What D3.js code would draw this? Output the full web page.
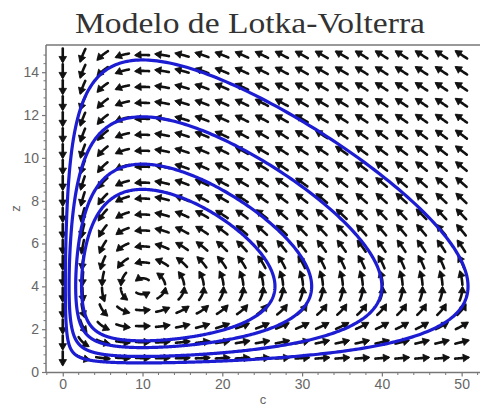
<!DOCTYPE html>
<html><head><meta charset="utf-8">
<script src="https://cdn.jsdelivr.net/npm/d3@7"></script>
<style>body{margin:0;background:#fff}</style>
</head><body><svg id="chart" width="480" height="409"></svg>
<script>
// ---- data ----
const titleText = "Modelo de Lotka-Volterra";
const xLabel = "c";
const yLabel = "z";
const xTicks = [0, 10, 20, 30, 40, 50];
const yTicks = [0, 2, 4, 6, 8, 10, 12, 14];
// model: c' = alpha*c - beta*c*z ; z' = -gamma*z + delta*c*z
const alpha = 1.0, beta = 0.25, gamma = 0.55, delta = 0.055;
// orbit starting points (read at z = 4, right-most point of each closed curve)
const orbitStartC = [50.8, 40.0, 31.2, 26.6];
const orbitStartZ = [4, 4, 4, 4];
// direction-field grid
const fieldC = [0, 2.5, 5, 7.5, 10, 12.5, 15, 17.5, 20, 22.5, 25, 27.5, 30, 32.5, 35, 37.5, 40, 42.5, 45, 47.5, 50];
const fieldZ = [0.65, 1.395, 2.14, 2.885, 3.63, 4.375, 5.12, 5.865, 6.61, 7.355, 8.1, 8.845, 9.59, 10.335, 11.08, 11.825, 12.57, 13.315, 14.06, 14.805];

// ---- layout ----
const W = 480, H = 409;
const pLeft = 46, pRight = 480, pTop = 45, pBottom = 372;
const svg = d3.select("#chart");
svg.append("rect").attr("width", W).attr("height", H).attr("fill", "#fff");

const x = d3.scaleLinear().domain([-2.1, 52.3]).range([pLeft, pRight]);
const y = d3.scaleLinear().domain([0, 15.27]).range([pBottom, pTop]);

function deriv(c, z) { return [c * (alpha - beta * z), z * (-gamma + delta * c)]; }

// ---- direction field (short flow-following arrows) ----
const kx = (x(1) - x(0)), ky = (y(0) - y(1));
function pxVel(px, py) {
  const c = x.invert(px), z = y.invert(py);
  const d = deriv(c, z);
  const vx = d[0] * kx, vy = -d[1] * ky;
  const n = Math.hypot(vx, vy) || 1;
  return [vx / n, vy / n];
}
function trace(px, py, len, sgn) {
  const pts = [[px, py]];
  const h = 0.5; let p = [px, py];
  for (let s = 0; s < len; s += h) {
    const v1 = pxVel(p[0], p[1]);
    const mid = [p[0] + sgn * v1[0] * h / 2, p[1] + sgn * v1[1] * h / 2];
    const v2 = pxVel(mid[0], mid[1]);
    p = [p[0] + sgn * v2[0] * h, p[1] + sgn * v2[1] * h];
    pts.push(p);
  }
  return pts;
}
const L = 14;
const fieldG = svg.append("g");
const lineGen = d3.line();
fieldC.forEach(c => fieldZ.forEach(z => {
  const px = x(c), py = y(z);
  const back = trace(px, py, L * 0.45, -1).reverse();
  const fwd = trace(px, py, L * 0.55, 1);
  const pts = back.concat(fwd.slice(1));
  const tip = pts[pts.length - 1];
  const pre = pts[Math.max(0, pts.length - 6)];
  let dx = tip[0] - pre[0], dy = tip[1] - pre[1];
  const n = Math.hypot(dx, dy) || 1; dx /= n; dy /= n;
  fieldG.append("path").attr("d", lineGen(pts.slice(0, pts.length - 4)))
    .attr("fill", "none").attr("stroke", "#111").attr("stroke-width", 2.6)
    .attr("stroke-linecap", "round").attr("stroke-linejoin", "round");
  const hl = 6.5, hw = 3.8;
  const bx = tip[0] - dx * hl, by = tip[1] - dy * hl;
  fieldG.append("path")
    .attr("d", `M${tip[0]},${tip[1]}L${bx - dy * hw},${by + dx * hw}L${bx + dy * hw},${by - dx * hw}Z`)
    .attr("fill", "#111").attr("stroke", "#111").attr("stroke-width", 0.8).attr("stroke-linejoin", "round");
}));

// ---- orbits ----
function orbit(c0, z0) {
  let c = c0, z = z0; const dt = 0.003; const out = [[c, z]];
  for (let i = 0; i < 400000; i++) {
    const k1 = deriv(c, z);
    const k2 = deriv(c + dt / 2 * k1[0], z + dt / 2 * k1[1]);
    const k3 = deriv(c + dt / 2 * k2[0], z + dt / 2 * k2[1]);
    const k4 = deriv(c + dt * k3[0], z + dt * k3[1]);
    const nc = c + dt / 6 * (k1[0] + 2 * k2[0] + 2 * k3[0] + k4[0]);
    const nz = z + dt / 6 * (k1[1] + 2 * k2[1] + 2 * k3[1] + k4[1]);
    const crossed = i > 200 && z < z0 && nz >= z0 && nc > gamma / delta;
    c = nc; z = nz;
    if (i % 4 === 0) out.push([c, z]);
    if (crossed) break;
  }
  out.push([c0, z0]);
  return out;
}
const orbitLine = d3.line().x(d => x(d[0])).y(d => y(d[1])).curve(d3.curveLinear);
const orbG = svg.append("g");
orbitStartC.forEach((c0, i) => {
  const pts = orbit(c0, orbitStartZ[i]);
  orbG.append("path").attr("d", orbitLine(pts)).attr("fill", "none")
    .attr("stroke", "#1c1cd2").attr("stroke-width", 3.2);
});

// ---- axes / frame ----
const axisColor = "#777";
svg.append("line").attr("x1", pLeft).attr("x2", pRight).attr("y1", pTop).attr("y2", pTop)
  .attr("stroke", axisColor).attr("stroke-width", 1.5);
svg.append("line").attr("x1", pLeft).attr("x2", pLeft).attr("y1", pTop).attr("y2", pBottom + 0.5)
  .attr("stroke", axisColor).attr("stroke-width", 1.5);
svg.append("line").attr("x1", pLeft).attr("x2", pRight).attr("y1", pBottom + 0.5).attr("y2", pBottom + 0.5)
  .attr("stroke", axisColor).attr("stroke-width", 1.5);

const xAxis = d3.axisBottom(x).tickValues(xTicks).tickSize(4).tickPadding(3).tickFormat(d3.format("d"));
const gx = svg.append("g").attr("transform", `translate(0,${pBottom + 0.5})`).call(xAxis);
gx.select(".domain").remove();
const xMinor = d3.range(-2, 53, 2).filter(v => v % 10 !== 0);
gx.selectAll(".minor").data(xMinor).enter().append("line").attr("class", "minor")
  .attr("x1", d => x(d)).attr("x2", d => x(d)).attr("y1", 0).attr("y2", 2.5).attr("stroke", axisColor);

const yAxis = d3.axisLeft(y).tickValues(yTicks).tickSize(4).tickPadding(3).tickFormat(d3.format("d"));
const gy = svg.append("g").attr("transform", `translate(${pLeft},0)`).call(yAxis);
gy.select(".domain").remove();
const yMinor = d3.range(0, 15.2, 0.4).filter(v => Math.abs(v / 2 - Math.round(v / 2)) > 0.01);
gy.selectAll(".minor").data(yMinor).enter().append("line").attr("class", "minor")
  .attr("x1", 0).attr("x2", -2.5).attr("y1", d => y(d)).attr("y2", d => y(d)).attr("stroke", axisColor);

[gx, gy].forEach(g => {
  g.selectAll(".tick line").attr("stroke", axisColor).attr("stroke-width", 1.2);
  g.selectAll(".tick text").attr("fill", "#666").attr("font-size", 14)
    .attr("font-family", "Liberation Sans, Arial, sans-serif");
});

// ---- labels ----
svg.append("text").attr("x", 250).attr("y", 33).attr("text-anchor", "middle")
  .attr("font-family", "Liberation Serif, Times New Roman, serif").attr("font-size", 29)
  .attr("textLength", 350).attr("lengthAdjust", "spacingAndGlyphs")
  .attr("fill", "#333").text(titleText);
svg.append("text").attr("x", (pLeft + pRight) / 2).attr("y", 404).attr("text-anchor", "middle")
  .attr("font-family", "Liberation Sans, Arial, sans-serif").attr("font-size", 13)
  .attr("fill", "#666").text(xLabel);
svg.append("text").attr("transform", `translate(20,${(pTop + pBottom) / 2}) rotate(-90)`)
  .attr("text-anchor", "middle")
  .attr("font-family", "Liberation Sans, Arial, sans-serif").attr("font-size", 13)
  .attr("fill", "#666").text(yLabel);
</script></body></html>
